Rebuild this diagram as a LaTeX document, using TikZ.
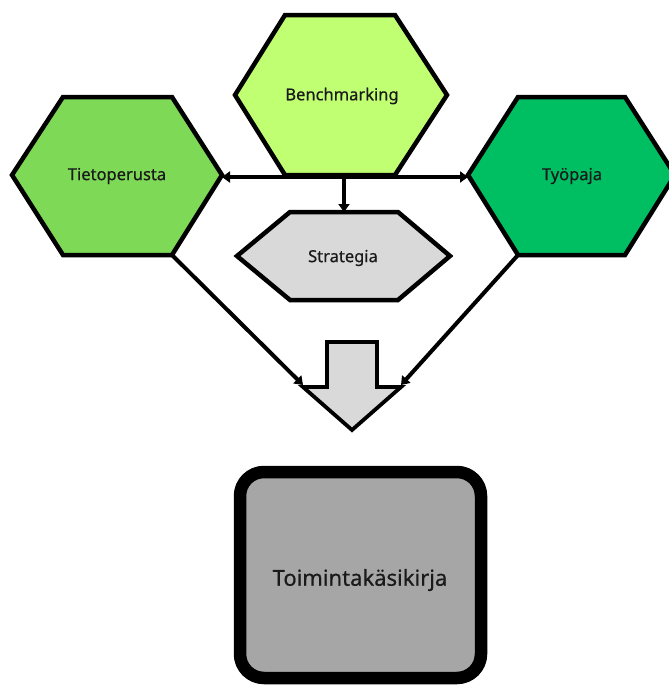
\documentclass[tikz,border=0pt]{standalone}
\usepackage{fontspec}
\setmainfont{Noto Sans}
\newfontfamily\lblfont{Noto Sans}[FakeBold=0.6]
\usetikzlibrary{arrows.meta}
\definecolor{tieto}{HTML}{7ED957}
\definecolor{bench}{HTML}{C1FF72}
\definecolor{tyo}{HTML}{00BF63}
\definecolor{lgray}{HTML}{D9D9D9}
\definecolor{dgray}{HTML}{A6A6A6}
\definecolor{txt}{HTML}{1A1A1A}
\begin{document}
\begin{tikzpicture}[x=1pt,y=-1pt,
  hexa/.style={draw=black,line width=4.5pt,line join=miter},
  conn/.style={draw=black,line width=4pt,-{Triangle[length=8pt,width=11pt]}},
  lbl/.style={text=txt,font=\lblfont\fontsize{16.5}{19}\selectfont},
  biglbl/.style={text=txt,font=\lblfont\fontsize{22}{25}\selectfont}]
\useasboundingbox (0,0) rectangle (669,688);
% Tietoperusta
\path[hexa,fill=tieto] (12,175) -- (63,97) -- (172,97) -- (222,175) -- (172,255) -- (63,255) -- cycle;
\coordinate (tR) at (222,177);
\coordinate (tB) at (172,255);
\node[lbl] (tieto) at (117,176) {Tietoperusta};
% Benchmarking
\path[hexa,fill=bench] (235,95) -- (285,15) -- (395,15) -- (447,95) -- (395,175) -- (285,175) -- cycle;
\node[lbl] (bench) at (342,96) {Benchmarking};
\coordinate (bB) at (344,177);
% Tyopaja
\path[hexa,fill=tyo] (468,175) -- (518,97) -- (625,97) -- (675,175) -- (625,255) -- (518,255) -- cycle;
\coordinate (yL) at (468,177);
\coordinate (yB) at (518,255);
\node[lbl] (tyo) at (572,176) {Työpaja};
% Strategia
\path[hexa,fill=lgray] (237,256) -- (290,212) -- (398,212) -- (450,256) -- (398,300) -- (290,300) -- cycle;
\coordinate (sT) at (344,212);
\node[lbl] (strat) at (343,258) {Strategia};
% big arrow
\path[draw=black,line width=3.8pt,fill=lgray,line join=miter] (327,342) -- (377,342) -- (377,387) -- (401,387) -- (352,430) -- (303,387) -- (327,387) -- cycle;
\coordinate (aL) at (303,385);
\coordinate (aR) at (401,385);
% connectors
\draw[conn,{Triangle[length=8pt,width=11pt]}-{Triangle[length=8pt,width=11pt]}] (tR) -- (yL);
\draw[conn] (bB) -- (sT);
\draw[conn] (tB) -- (aL);
\draw[conn] (yB) -- (aR);
% Toimintakasikirja
\path[draw=black,line width=12.5pt,fill=dgray,rounded corners=24pt] (240,472) rectangle (481,678);
\node[biglbl] (toim) at (360,580) {Toimintakäsikirja};
\end{tikzpicture}
\end{document}
